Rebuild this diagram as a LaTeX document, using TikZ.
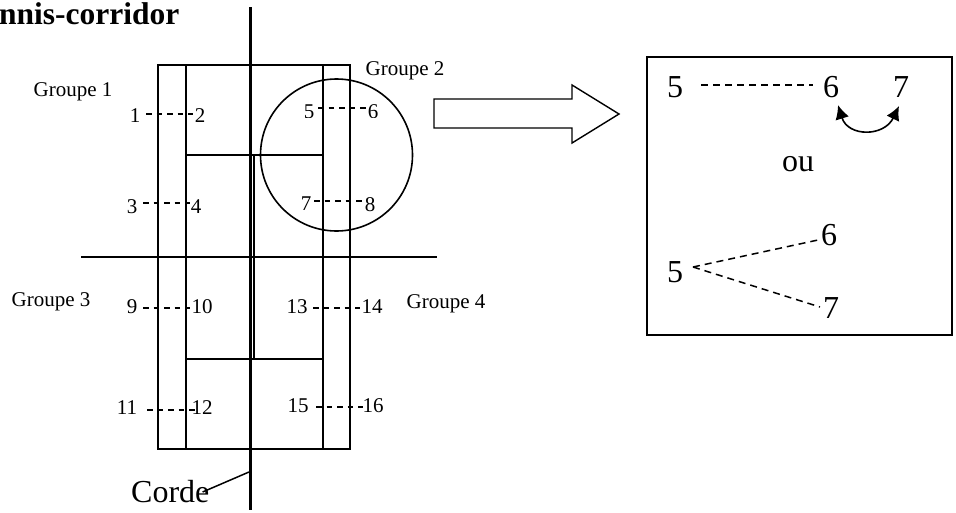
\documentclass[tikz,border=0pt]{standalone}
\usepackage{fontspec}
\setmainfont{Liberation Serif}
\usetikzlibrary{arrows.meta}
\tikzset{
  x=1pt,y=-1pt,
  court/.style={line width=1.6pt,black},
  rope/.style={line width=3pt,black},
  dash1/.style={line width=1.5pt,dash pattern=on 5.5pt off 5pt},
  dash2/.style={line width=1.5pt,dash pattern=on 7pt off 5pt},
  small/.style={inner sep=0pt,font=\fontsize{21}{21}\selectfont},
  big/.style={inner sep=0pt,font=\fontsize{32}{32}\selectfont},
  frame/.style={line width=1.8pt,black},
  swap/.style={line width=1.6pt,{Latex[length=14pt,width=14pt]}-{Latex[length=14pt,width=14pt]}}
}
\begin{document}
\begin{tikzpicture}
\useasboundingbox (0,0) rectangle (956,512);
\fill[white] (0,0) rectangle (956,512);
% title
\node[anchor=base west,inner sep=0pt,font=\fontsize{31.5}{31.5}\selectfont\bfseries] (title) at (-1,24) {nnis-corridor};
% court
\draw[court] (158,65) rectangle (350,449);
\draw[court] (186,65) -- (186,449);
\draw[court] (323,65) -- (323,449);
\draw[court] (186,155) -- (323,155);
\draw[court] (186,359) -- (323,359);
\draw[court] (254,155) -- (254,359);
\draw[court] (81,257) -- (437,257);
\draw[rope] (250,7) coordinate (ropetop) -- (250,510) coordinate (ropebot);
\node[draw,circle,line width=1.6pt,minimum size=152pt,inner sep=0pt] (circ) at (336.5,155) {};
% labels
\node[small] (g1) at (73,92) {Groupe 1};
\node[small] (g2) at (405,71) {Groupe 2};
\node[small] (g3) at (51,302) {Groupe 3};
\node[small] (g4) at (446,304) {Groupe 4};
% numbers
\node[small] (n1) at (135,116) {1};
\node[small] (n2) at (200,116) {2};
\node[small] (n3) at (132,207) {3};
\node[small] (n4) at (196,207) {4};
\begin{scope}
\clip (290,95) rectangle (395,117);
\node[small] (n5) at (309,112) {5};
\node[small] (n6) at (373,112) {6};
\end{scope}
\node[small] (n7) at (306,204) {7};
\node[small] (n8) at (370,205) {8};
\node[small] (n9) at (132,307) {9};
\node[small] (n10) at (202,307) {10};
\node[small] (n13) at (297,307) {13};
\node[small] (n14) at (372,307) {14};
\node[small] (n11) at (127,408) {11};
\node[small] (n12) at (202,408) {12};
\node[small] (n15) at (298,406) {15};
\node[small] (n16) at (373,406) {16};
% dashes
\draw[dash1] ([shift={(11,-2)}]n1.center) -- ([shift={(-7,-2)}]n2.center);
\draw[dash1] ([shift={(11,-4)}]n3.center) -- ([shift={(-6,-4)}]n4.center);
\draw[dash1] ([shift={(9,-4)}]n5.center) -- ([shift={(-6,-4)}]n6.center);
\draw[dash1] ([shift={(8,-3)}]n7.center) -- ([shift={(-7,-4)}]n8.center);
\draw[dash1] ([shift={(11,1)}]n9.center) -- ([shift={(-12,1)}]n10.center);
\draw[dash1] ([shift={(16,1)}]n13.center) -- ([shift={(-12,1)}]n14.center);
\draw[dash1] ([shift={(20,2)}]n11.center) -- ([shift={(-7,2)}]n12.center);
\draw[dash1] ([shift={(18,1)}]n15.center) -- ([shift={(-10,1)}]n16.center);
% corde
\node[big,anchor=base west] (corde) at (131,502) {Corde};
\coordinate (ropept) at (249,472);
\draw[line width=1.5pt] ([shift={(-7,-10)}]corde.base east) -- (ropept);
% big arrow
\draw[line width=1.4pt] (434,99) coordinate (a0) -- (572,99) -- (572,85) -- (619,114) -- (572,143) -- (572,128) -- (434,128) -- cycle;
% box
\draw[frame] (647,57) rectangle (952,335);
\node[big] (r5) at (675,87) {5};
\node[big] (r6) at (831,87) {6};
\node[big] (r7) at (901,87) {7};
\node[big,anchor=base] (ou) at (798,171) {ou};
\node[big] (s6) at (829,235) {6};
\node[big] (s5) at (675,272) {5};
\node[big] (s7) at (831,308) {7};
\draw[dash2] ([shift={(26,-2)}]r5.center) -- ([shift={(-18,-2)}]r6.center);
\draw[dash2] ([shift={(18,-5)}]s5.center) -- ([shift={(-11,5)}]s6.center);
\draw[dash2] ([shift={(18,-5)}]s5.center) -- ([shift={(-11,-1)}]s7.center);
\draw[swap] ([shift={(7,18)}]r6.center) .. controls (848,137) and (884,137) .. ([shift={(-2,19)}]r7.center);
\end{tikzpicture}
\end{document}
